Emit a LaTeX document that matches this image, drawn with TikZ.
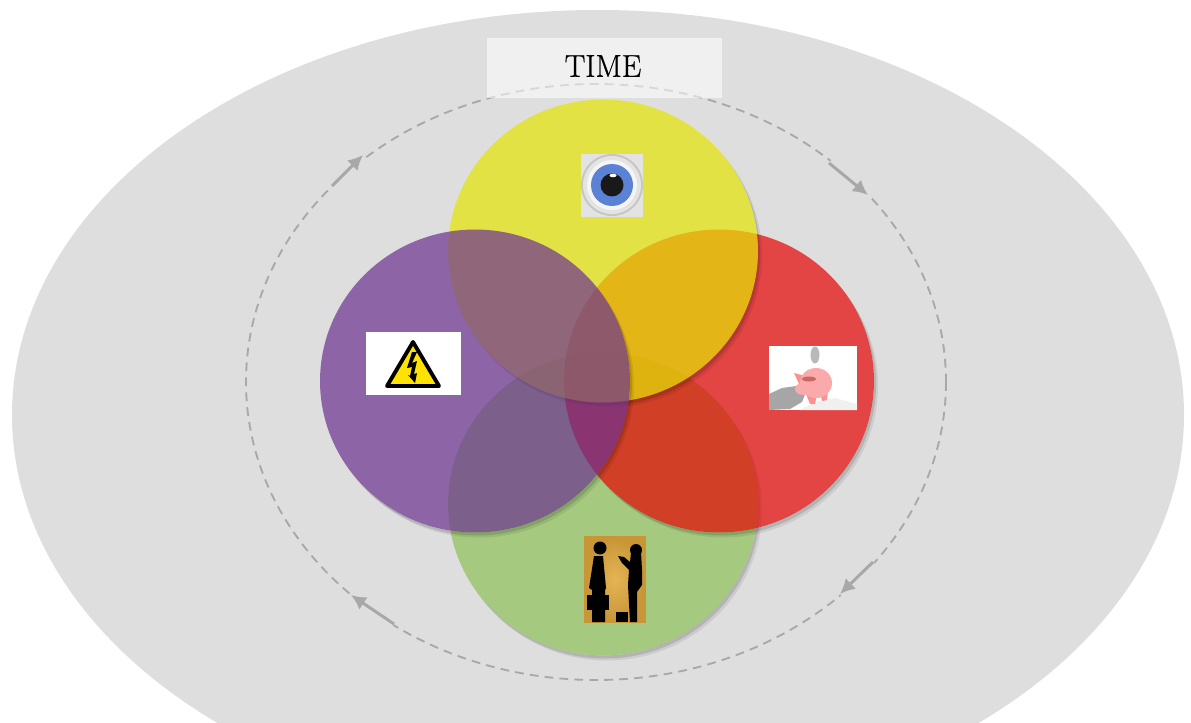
\documentclass[tikz,border=0pt]{standalone}
\usepackage{fontspec}
\usetikzlibrary{shapes.geometric,arrows.meta}
\newfontfamily\timefont[FakeBold=0.7]{Latin Modern Roman}
\definecolor{ringgray}{HTML}{A8A8A8}
\definecolor{fieldgray}{HTML}{DEDEDE}
\definecolor{discyellow}{RGB}{228,229,5}
\definecolor{discpurple}{RGB}{108,50,145}
\definecolor{discred}{RGB}{228,5,3}
\definecolor{discgreen}{RGB}{142,193,88}
\definecolor{pigpink}{RGB}{250,170,170}
\definecolor{irisblue}{RGB}{92,130,214}
\definecolor{goldedge}{RGB}{200,150,55}
\definecolor{goldmid}{RGB}{228,180,85}
\newcommand{\discshadow}[2]{%
  \begin{scope}[even odd rule]
    \clip (0,0) rectangle (1191,723) (#1,#2) ellipse [x radius=155,y radius=151.5] ;
    \fill[black,opacity=0.08] (#1+4,#2+5) ellipse [x radius=155,y radius=151.5] ;
    \fill[black,opacity=0.12] (#1+2,#2+3) ellipse [x radius=155,y radius=151.5] ;
  \end{scope}}
\begin{document}
\begin{tikzpicture}[x=0.02cm,y=-0.02cm]
%environnement

\tikzstyle{disc}=[ellipse,inner sep=0pt,minimum width=6.2cm,minimum height=6.06cm,fill opacity=0.7]
\tikzstyle{ring}=[ringgray,line width=1.05pt,dash pattern=on 5pt off 3.5pt]
\tikzstyle{ringcase}=[fieldgray,line width=5pt]
\tikzstyle{ringarrow}=[-{Latex[length=8.5pt,width=8.5pt]},ringgray,line width=1.7pt]
\clip (0,0) rectangle (1191,723) ;
\fill[fieldgray] (598,415) ellipse [x radius=586,y radius=405] ;

%the ring
\draw[ring] (596,382) ellipse [x radius=350,y radius=298] ;
\coordinate (nwtail) at (332,186) ; \coordinate (nwhead) at (363,155) ;
\coordinate (netail) at (829,163) ; \coordinate (nehead) at (868,195) ;
\coordinate (setail) at (873,562) ; \coordinate (sehead) at (840,594) ;
\coordinate (swtail) at (394,624) ; \coordinate (swhead) at (351,595) ;
\draw[ringcase] (nwtail) -- (nwhead) ;
\draw[ringcase] (netail) -- (nehead) ;
\draw[ringcase] (setail) -- (sehead) ;
\draw[ringcase] (swtail) -- (swhead) ;
\draw[ringarrow] (nwtail) -- (nwhead) ;
\draw[ringarrow] (netail) -- (nehead) ;
\draw[ringarrow] (setail) -- (sehead) ;
\draw[ringarrow] (swtail) -- (swhead) ;
\node (timebox) at (604.5,68) [fill=white,fill opacity=0.55,minimum width=4.7cm,minimum height=1.2cm,inner sep=0pt] {} ;
\node (timelabel) at (603,66) [xscale=0.88,yscale=0.9,font=\timefont\fontsize{20}{20}\selectfont,inner sep=0pt] {TIME} ;

%the discs
\discshadow{603}{504}
\node (talkdisc) at (603,504) [disc,fill=discgreen] {} ;
\discshadow{719}{381}
\node (moneydisc) at (719,381) [disc,fill=discred] {} ;
\discshadow{603}{251}
\node (eyedisc) at (603,251) [disc,fill=discyellow] {} ;
\discshadow{475}{381}
\node (riskdisc) at (475,381) [disc,fill=discpurple] {} ;

%the eye
\fill[gray!22] (581,154) rectangle (643,217) ;
\fill[gray!45] (612,185) circle [radius=31] ;
\fill[gray!22] (612,185) circle [radius=29] ;
\fill[gray!8] (612,185) circle [radius=25] ;
\fill[irisblue] (612,185) circle [radius=21] ;
\fill[black!90] (612,185) circle [radius=11.5] ;
\fill[white] (613,175.5) ellipse [x radius=3.5,y radius=1.8] ;

%the warning sign
\fill[white] (366,332) rectangle (461,395) ;
\fill[yellow!85!orange,draw=black,line width=2.2pt,line join=round] (413,342) -- (439,386) -- (387,386) -- cycle ;
\fill[black] (412,352) -- (407,368) -- (412,367) -- (410,376) -- (408,375) -- (415,383) -- (417,373) -- (414,374) -- (417,361) -- (412,363) -- (417,352) -- cycle ;

%the piggy bank
\fill[white] (769,346) rectangle (857,410) ;
\fill[gray!12] (800,410) -- (815,402) -- (835,398) -- (857,404) -- (857,410) -- cycle ;
\fill[gray!70] (769,394) -- (782,388) -- (796,386) -- (806,392) -- (802,402) -- (790,409) -- (769,410) -- cycle ;
\fill[gray!55] (815,355) ellipse [x radius=4.5,y radius=8.5] ;
\fill[pigpink!85!red] (806,394) -- (810,404) -- (815,404) -- (817,394) -- cycle ;
\fill[pigpink!85!red] (820,392) -- (822,401) -- (827,400) -- (828,390) -- cycle ;
\fill[pigpink!85!red] (794,373) -- (805,376) -- (800,386) -- cycle ;
\fill[pigpink] (816,383) ellipse [x radius=16,y radius=15] ;
\fill[pigpink] (803,389) ellipse [x radius=8,y radius=6] ;
\fill[pigpink!75!red!80!black] (809,379) ellipse [x radius=7,y radius=2.5] ;

%the two people
\fill[goldedge] (584,536) rectangle (646,623) ;
\shade[inner color=goldmid,outer color=goldedge] (586,538) rectangle (644,621) ;
\fill[black] (600,548) circle [radius=6.5] ;
\fill[black] (594,556) -- (589,588) -- (592,590) -- (592,622) -- (605,622) -- (605,590) -- (606,588) -- (603,556) -- cycle ;
\fill[black] (587,595) rectangle (609,610) ;
\fill[black] (636,550) circle [radius=6] ;
\fill[black] (631,553) -- (641,552) -- (642,570) -- (642,585) -- (637,592) -- (637,622) -- (630,622) -- (628,585) -- (629,570) -- (622,563) -- (618,556) -- (624,557) -- (630,562) -- cycle ;
\fill[black] (616,612) rectangle (628,622) ;

\end{tikzpicture}
\end{document}
